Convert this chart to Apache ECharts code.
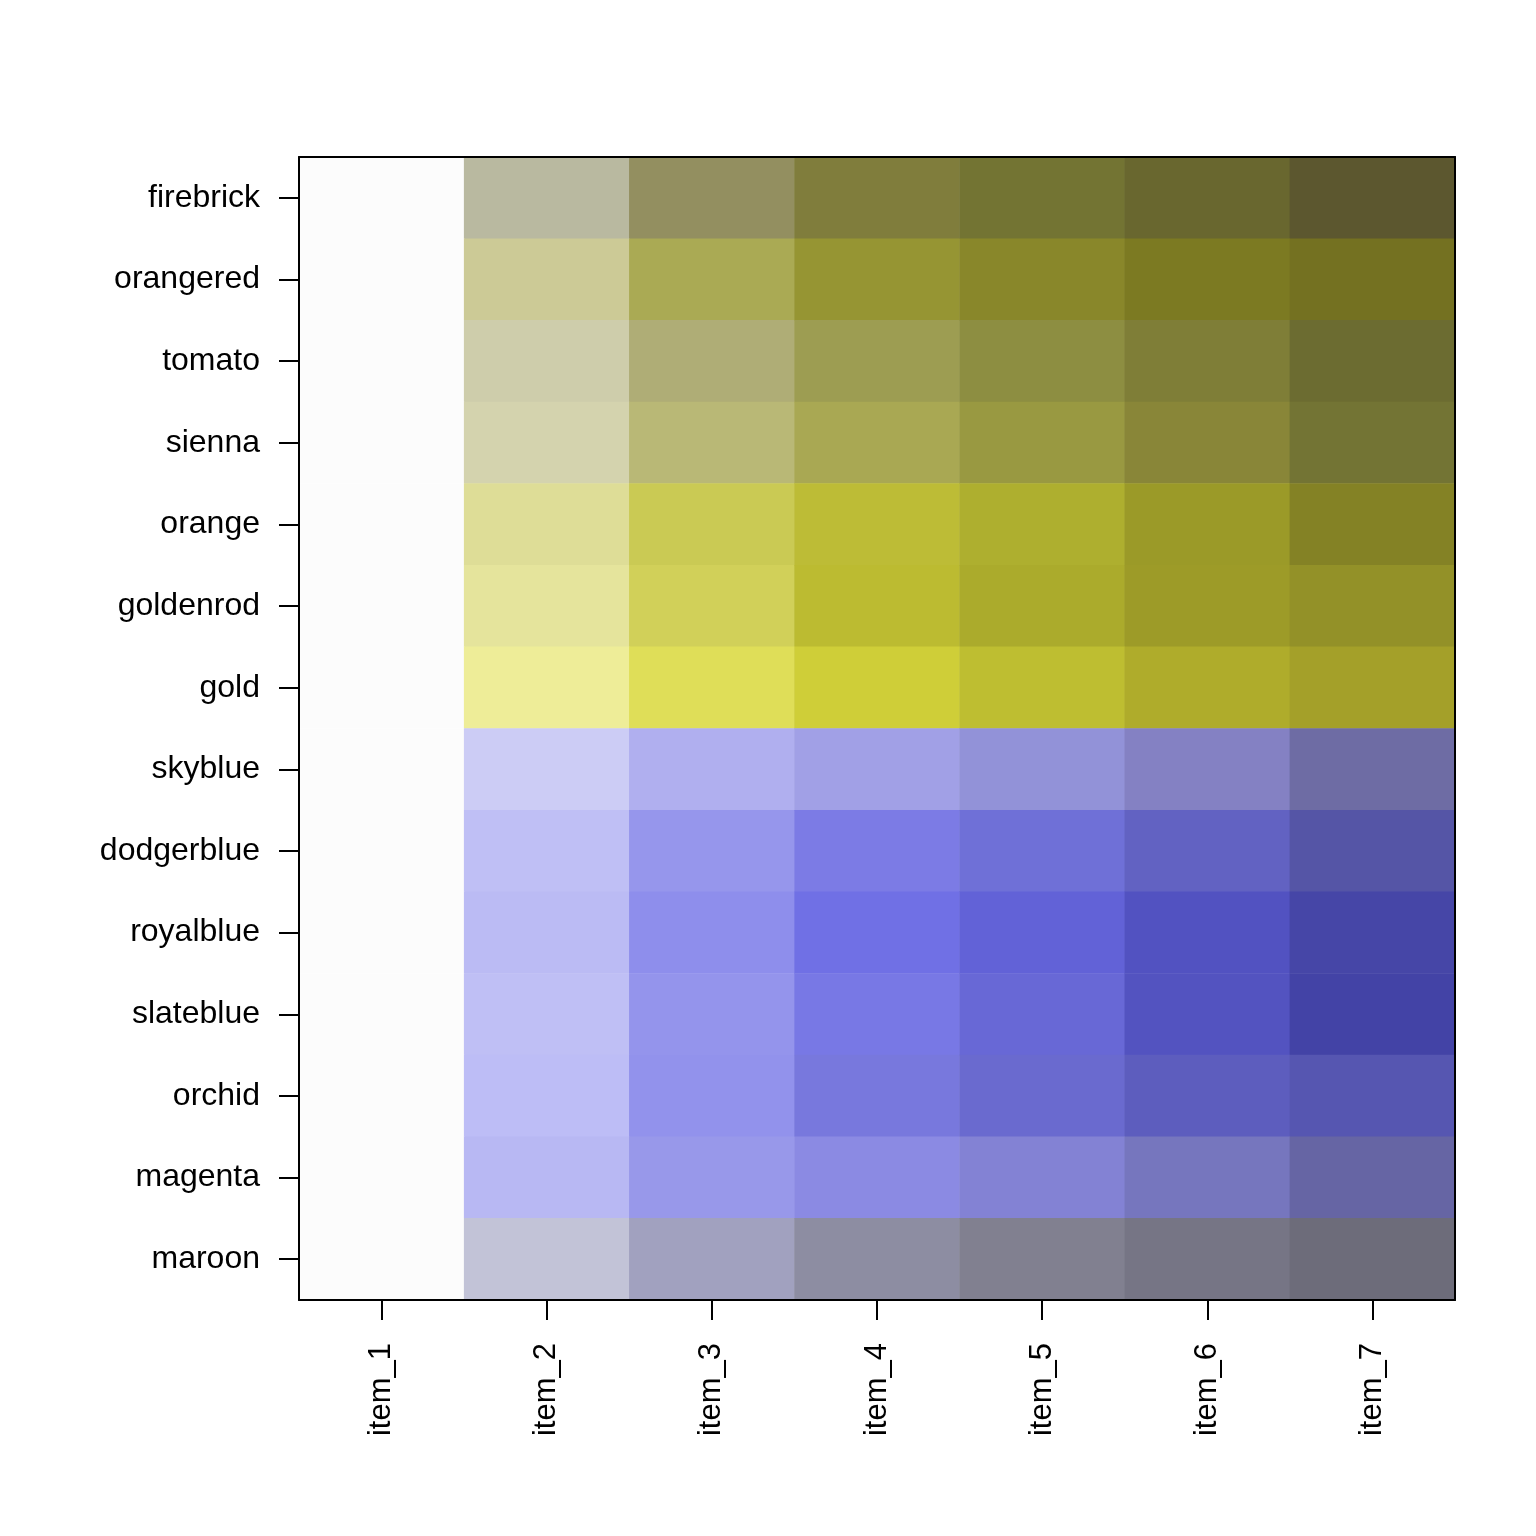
<!DOCTYPE html>
<html>
<head>
<meta charset="utf-8">
<script src="https://cdn.jsdelivr.net/npm/echarts@6/dist/echarts.min.js"></script>
<style>
    html, body { margin: 0; padding: 0; background: #fff; }
    #chartHeat { width: 1536px; height: 1536px; }
</style>
</head>
<body>
<div id="chartHeat"></div>
<script>
    // columns / rows (top to bottom as drawn)
    var items = ['item_1', 'item_2', 'item_3', 'item_4', 'item_5', 'item_6', 'item_7'];
    var rowNames = ['firebrick', 'orangered', 'tomato', 'sienna', 'orange', 'goldenrod', 'gold',
                    'skyblue', 'dodgerblue', 'royalblue', 'slateblue', 'orchid', 'magenta', 'maroon'];

    // cell colours, one list per row
    var firebrick  = ['#FCFCFC', '#B9B9A0', '#938F60', '#807D3C', '#737433', '#69672F', '#5C572F'];
    var orangered  = ['#FCFCFC', '#CCCA96', '#AAAA54', '#969533', '#89872A', '#7C7A22', '#747121'];
    var tomato     = ['#FCFCFC', '#CECDAB', '#AFAD76', '#9D9D52', '#8D8E41', '#7F7E37', '#6C6C31'];
    var sienna     = ['#FCFCFC', '#D4D3AE', '#B9B876', '#A9A853', '#999941', '#898638', '#737434'];
    var orange     = ['#FCFCFC', '#DEDD97', '#CACA54', '#BDBC36', '#AEAF2F', '#9B9A28', '#848225'];
    var goldenrod  = ['#FCFCFC', '#E5E49C', '#D1D059', '#BCBB31', '#ABAB2C', '#9D9B28', '#939128'];
    var gold       = ['#FCFCFC', '#EEED98', '#DFDE58', '#CFCE38', '#BEBE31', '#AFAC2B', '#A4A029'];
    var skyblue    = ['#FCFCFC', '#CCCCF5', '#B0AFEF', '#A1A0E6', '#9292D8', '#8481C3', '#6E6CA4'];
    var dodgerblue = ['#FCFCFC', '#BFBFF5', '#9696EC', '#7C7BE5', '#6F70D7', '#6262C2', '#5555A6'];
    var royalblue  = ['#FCFCFC', '#BBBBF4', '#8E8EEC', '#7070E5', '#6262D7', '#5252C1', '#4646A7'];
    var slateblue  = ['#FCFCFC', '#BFBFF5', '#9494EC', '#7878E5', '#6868D6', '#5353C0', '#4343A6'];
    var orchid     = ['#FCFCFC', '#BDBDF6', '#9292EC', '#7878DD', '#6A6ACF', '#5D5DBE', '#5656B1'];
    var magenta    = ['#FCFCFC', '#B8B8F3', '#9898EA', '#8B8AE3', '#8382D4', '#7676BE', '#6665A4'];
    var maroon     = ['#FCFCFC', '#C2C3D7', '#A1A1BF', '#8D8DA2', '#818090', '#767585', '#6D6C7A'];

    var rowColors = [firebrick, orangered, tomato, sienna, orange, goldenrod, gold,
                     skyblue, dodgerblue, royalblue, slateblue, orchid, magenta, maroon];

    var cells = [];
    for (var r = 0; r < rowNames.length; r++) {
        for (var c = 0; c < items.length; c++) {
            cells.push({ value: [c, r, 0], itemStyle: { color: rowColors[r][c] } });
        }
    }

    var font = 'Liberation Sans, Arial, Helvetica, sans-serif';
    var line = { color: '#000', width: 2 };
    var chartHeat = echarts.init(document.getElementById('chartHeat'));
    var option = {
        animation: false,
        backgroundColor: '#fff',
        grid: { left: 299, right: 81, top: 157, bottom: 236 },
        xAxis: [{
            type: 'category',
            data: items,
            position: 'bottom',
            z: 10,
            axisLine: { show: true, lineStyle: line },
            axisTick: { show: true, alignWithLabel: true, length: 20, lineStyle: line },
            axisLabel: { rotate: 90, margin: 43, color: '#000', fontSize: 31, fontFamily: font },
            splitLine: { show: false }
        }, {
            type: 'category',
            data: items,
            position: 'top',
            z: 10,
            axisLine: { show: true, lineStyle: line },
            axisTick: { show: false },
            axisLabel: { show: false }
        }],
        yAxis: [{
            type: 'category',
            data: rowNames,
            inverse: true,
            position: 'left',
            z: 10,
            axisLine: { show: true, lineStyle: line },
            axisTick: { show: true, alignWithLabel: true, length: 20, lineStyle: line },
            axisLabel: { margin: 39, color: '#000', fontSize: 32, fontFamily: font, padding: [12, 0, 0, 0] },
            splitLine: { show: false }
        }, {
            type: 'category',
            data: rowNames,
            inverse: true,
            position: 'right',
            z: 10,
            axisLine: { show: true, lineStyle: line },
            axisTick: { show: false },
            axisLabel: { show: false }
        }],
        series: [{
            type: 'heatmap',
            xAxisIndex: 0,
            yAxisIndex: 0,
            data: cells,
            z: 1,
            emphasis: { disabled: true }
        }]
    };
    chartHeat.setOption(option);
</script>
</body>
</html>
